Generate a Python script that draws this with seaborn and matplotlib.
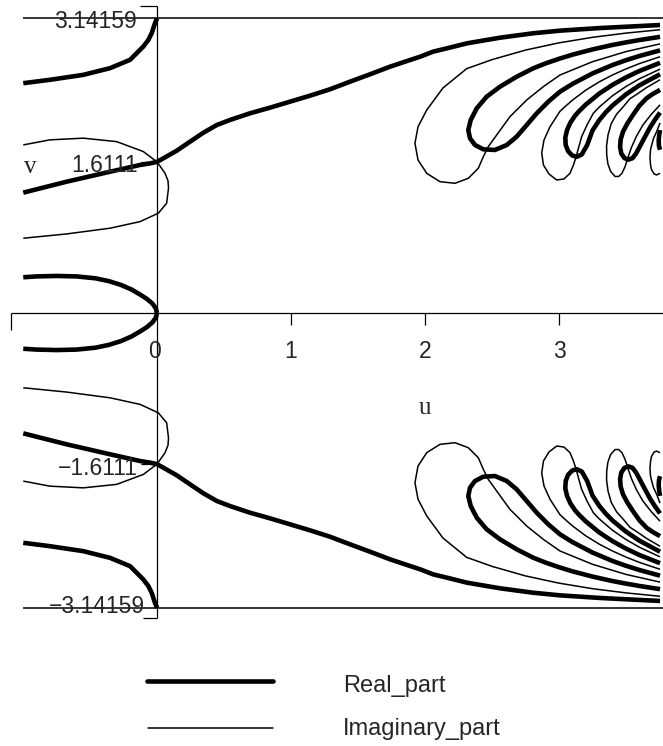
import matplotlib
matplotlib.use("Agg")
import matplotlib.pyplot as plt
import seaborn as sns
from matplotlib.lines import Line2D

# ---------------- data (upper half, v >= 0; lower half is its mirror image) -------------
# Real_part = 0 curves (thick)
re_edge_u = [-0.998, -0.799, -0.550, -0.351, -0.201, -0.102, -0.065, -0.040, -0.015, 0.0]
re_edge_v = [2.450, 2.486, 2.539, 2.610, 2.699, 2.841, 2.910, 2.982, 3.090, 3.1416]

re_root_u = [-0.998, -0.674, -0.351, -0.127, -0.052, 0.0, 0.047, 0.147, 0.246, 0.346, 0.446,
             0.545, 0.694, 0.843, 0.993, 1.142, 1.291, 1.440, 1.590, 1.739, 1.888, 1.963,
             2.060, 2.187, 2.313, 2.560, 2.806, 3.007, 3.306, 3.530, 3.754]
re_root_v = [1.283, 1.400, 1.506, 1.578, 1.595, 1.611, 1.649, 1.730, 1.826, 1.922, 2.004,
             2.058, 2.129, 2.189, 2.253, 2.317, 2.385, 2.466, 2.545, 2.626, 2.697, 2.732,
             2.786, 2.830, 2.875, 2.935, 2.982, 3.010, 3.038, 3.054, 3.070]

re_origin_u = [-0.998, -0.900, -0.750, -0.600, -0.460, -0.360, -0.270, -0.190, -0.130, -0.075,
               -0.034, -0.009, 0.0]
re_origin_v = [0.381, 0.390, 0.395, 0.390, 0.370, 0.340, 0.300, 0.250, 0.200, 0.150,
               0.100, 0.050, 0.0]

re_loop1_u = [3.754, 3.6, 3.5, 3.4, 3.25, 3.1, 3.0, 2.9, 2.808, 2.684, 2.560, 2.460, 2.386,
              2.341, 2.323, 2.336, 2.373, 2.435, 2.522, 2.610, 2.684, 2.759, 2.834, 2.920,
              3.007, 3.1, 3.25, 3.4, 3.5, 3.6, 3.754]
re_loop1_v = [2.944, 2.910, 2.885, 2.858, 2.810, 2.754, 2.710, 2.661, 2.609, 2.519, 2.413,
              2.306, 2.182, 2.057, 1.951, 1.862, 1.791, 1.745, 1.738, 1.791, 1.880, 2.004,
              2.129, 2.253, 2.359, 2.442, 2.554, 2.644, 2.695, 2.740, 2.800]

re_loop2_u = [3.754, 3.6, 3.5, 3.4, 3.3, 3.2, 3.15, 3.12, 3.085, 3.06, 3.047, 3.05, 3.068, 3.098,
              3.132, 3.17, 3.21, 3.25, 3.3, 3.35, 3.4, 3.5, 3.6, 3.754]
re_loop2_v = [2.667, 2.580, 2.512, 2.433, 2.339, 2.222, 2.152, 2.104, 2.030, 1.950, 1.870,
              1.790, 1.725, 1.680, 1.665, 1.690, 1.790, 1.946, 2.055, 2.141, 2.213, 2.331,
              2.427, 2.545]

re_loop3_u = [3.754, 3.70, 3.654, 3.60, 3.552, 3.51, 3.478, 3.46, 3.456, 3.465, 3.488, 3.517,
              3.548, 3.575, 3.605, 3.642, 3.68, 3.716, 3.754]
re_loop3_v = [2.379, 2.335, 2.290, 2.210, 2.112, 2.020, 1.934, 1.850, 1.770, 1.700, 1.652,
              1.635, 1.650, 1.700, 1.780, 1.880, 1.980, 2.060, 2.137]

re_loop4_u = [3.754, 3.748, 3.744, 3.746, 3.754]
re_loop4_v = [1.950, 1.900, 1.840, 1.780, 1.740]

# Imaginary_part = 0 curves (thin)
im_line_u = [-0.998, 3.776]
im_line_v = [3.1416, 3.1416]

im_root_u = [-0.998, -0.799, -0.550, -0.301, -0.102, 0.0, 0.060, 0.082, 0.086, 0.072, 0.010,
             -0.127, -0.351, -0.674, -0.998]
im_root_v = [1.792, 1.846, 1.864, 1.827, 1.721, 1.611, 1.490, 1.410, 1.333, 1.170, 1.064,
             0.974, 0.904, 0.843, 0.797]

im_loop1_u = [3.754, 3.5, 3.25, 3.0, 2.75, 2.5, 2.4, 2.311, 2.134, 2.013, 1.948, 1.925, 1.948,
              2.013, 2.112, 2.224, 2.323, 2.398, 2.435, 2.472, 2.535, 2.634, 2.759, 2.883,
              3.007, 3.25, 3.5, 3.754]
im_loop1_v = [3.020, 2.984, 2.939, 2.880, 2.803, 2.701, 2.650, 2.605, 2.399, 2.164, 1.986,
              1.809, 1.631, 1.489, 1.400, 1.383, 1.436, 1.543, 1.666, 1.773, 1.898, 2.093,
              2.271, 2.413, 2.537, 2.679, 2.787, 2.869]

im_loop2_u = [3.754, 3.6, 3.5, 3.4, 3.3, 3.2, 3.1, 3.05, 3.007, 2.933, 2.888, 2.871, 2.884,
              2.925, 2.983, 3.037, 3.082, 3.108, 3.127, 3.169, 3.209, 3.256, 3.3, 3.4, 3.5,
              3.6, 3.754]
im_loop2_v = [2.732, 2.659, 2.602, 2.538, 2.464, 2.376, 2.269, 2.206, 2.150, 1.986, 1.844,
              1.706, 1.578, 1.482, 1.418, 1.429, 1.489, 1.578, 1.663, 1.880, 2.004, 2.129,
              2.195, 2.317, 2.415, 2.497, 2.600]

im_loop3_u = [3.754, 3.65, 3.58, 3.53, 3.48, 3.43, 3.39, 3.366, 3.355, 3.356, 3.365, 3.385,
              3.418, 3.445, 3.47, 3.493, 3.515, 3.542, 3.58, 3.627, 3.69, 3.754]
im_loop3_v = [2.487, 2.400, 2.331, 2.285, 2.200, 2.120, 2.020, 1.899, 1.780, 1.686, 1.590,
              1.510, 1.456, 1.455, 1.490, 1.560, 1.660, 1.770, 1.890, 2.006, 2.120, 2.219]

im_loop4_u = [3.754, 3.729, 3.705, 3.692, 3.683, 3.679, 3.683, 3.69, 3.71, 3.729, 3.754]
im_loop4_v = [2.027, 1.934, 1.860, 1.792, 1.740, 1.660, 1.580, 1.530, 1.482, 1.472, 1.490]

x_ticks = [0, 1, 2, 3]
x_tick_labels = ["0", "1", "2", "3"]
v_marks = [3.14159, 1.6111, -1.6111, -3.14159]
v_mark_labels = ["3.14159", "1.6111", "\u22121.6111", "\u22123.14159"]
legend_labels = ["Real_part", "Imaginary_part"]

real_curves = [(re_edge_u, re_edge_v), (re_root_u, re_root_v), (re_origin_u, re_origin_v),
               (re_loop1_u, re_loop1_v), (re_loop2_u, re_loop2_v), (re_loop3_u, re_loop3_v),
               (re_loop4_u, re_loop4_v)]
imag_curves = [(im_line_u, im_line_v), (im_root_u, im_root_v), (im_loop1_u, im_loop1_v),
               (im_loop2_u, im_loop2_v), (im_loop3_u, im_loop3_v), (im_loop4_u, im_loop4_v)]

# ---------------- style ----------------
sns.set_style("white")
plt.rcParams['font.family'] = ['Liberation Sans', 'DejaVu Sans']

W, H = 663, 746
fig = plt.figure(figsize=(W / 100, H / 100), dpi=100)
ax = fig.add_axes([0, (H - 640) / H, 1, 640 / H])
ax.set_xlim(-157 / 134, (663 - 157) / 134)
ax.set_ylim((313 - 640) / 93.8, 313 / 93.8)

LW_RE = 3.3
LW_IM = 1.1


def draw(u, v, lw):
    sns.lineplot(x=u, y=v, sort=False, estimator=None, color="black", lw=lw, ax=ax,
                 solid_joinstyle="round", solid_capstyle="butt")
    sns.lineplot(x=u, y=[-t for t in v], sort=False, estimator=None, color="black", lw=lw,
                 ax=ax, solid_joinstyle="round", solid_capstyle="butt")


for u, v in imag_curves:
    draw(u, v, LW_IM)
for u, v in real_curves:
    draw(u, v, LW_RE)

ax.set_axis_off()

# ---------------- Maple-style axes ----------------
AX_LW = 0.9
k = dict(color="black", lw=AX_LW, solid_capstyle="butt")
ax.plot([-1.0896, 3.776], [0, 0], **k)
ax.plot([-1.0896, -1.0896], [0, -0.181], **k)
for t in x_ticks[1:]:
    ax.plot([t, t], [0, -0.128], **k)
ax.plot([0, 0], [-3.2516, 3.2729], **k)
ax.plot([-0.127, 0], [3.2729, 3.2729], **k)
ax.plot([-0.104, 0], [-3.2516, -3.2516], **k)
for t in v_marks[1:3]:
    ax.plot([-0.119, 0], [t, t], **k)

TF = 16.5
for t, lab in zip(x_ticks, x_tick_labels):
    xx = -0.015 if t == 0 else t
    ax.text(xx, -0.480, lab, ha="center", va="baseline", fontsize=TF)

v_label_pos = [(-0.149, 3.035), (-0.142, 1.506), (-0.142, -1.727), (-0.090, -3.198)]
for (xx, yy), lab in zip(v_label_pos, v_mark_labels):
    ax.text(xx, yy, lab, ha="right", va="baseline", fontsize=TF)

ax.text(2.0, -1.077, "u", ha="center", va="baseline", fontsize=18, family="Liberation Serif")
ax.text(-0.990, 1.489, "v", ha="left", va="baseline", fontsize=18, family="Liberation Serif")

# ---------------- legend ----------------
fig.add_artist(Line2D([147 / W, 273 / W], [1 - 681 / H, 1 - 681 / H], transform=fig.transFigure,
                      color="black", lw=LW_RE, solid_capstyle="round"))
fig.add_artist(Line2D([148 / W, 273 / W], [1 - 728 / H, 1 - 728 / H], transform=fig.transFigure,
                      color="black", lw=LW_IM))
fig.text(343 / W, 1 - 692 / H, legend_labels[0], ha="left", va="baseline", fontsize=17)
fig.text(343 / W, 1 - 735 / H, legend_labels[1], ha="left", va="baseline", fontsize=17)

fig.savefig("out.png", dpi=100)
